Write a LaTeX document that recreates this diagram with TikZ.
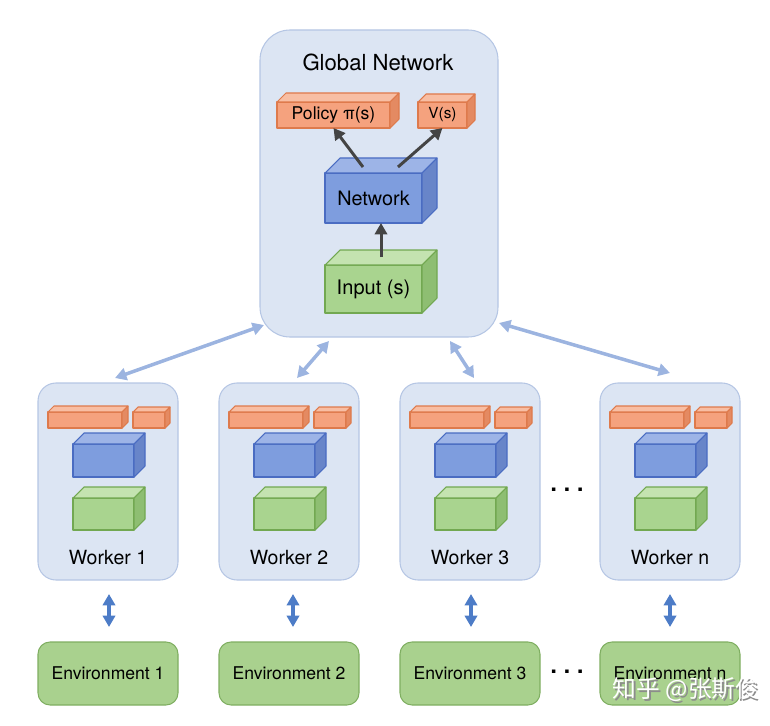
\documentclass[tikz,border=0pt]{standalone}
\usepackage{fontspec}
\setmainfont{TeX Gyre Heros}
\newfontfamily\cjkfont{Noto Sans CJK SC}
\usepackage{tikz}
\usetikzlibrary{arrows.meta, positioning}
\definecolor{panelfill}{HTML}{DCE5F3}
\definecolor{panelline}{HTML}{B5C6E4}
\definecolor{orfront}{HTML}{F5A27E}
\definecolor{ortop}{HTML}{F8BEA3}
\definecolor{orside}{HTML}{E48A62}
\definecolor{orline}{HTML}{DE7A4C}
\definecolor{blfront}{HTML}{7E9DDE}
\definecolor{bltop}{HTML}{9DB4E7}
\definecolor{blside}{HTML}{6885C9}
\definecolor{blline}{HTML}{4A6CC2}
\definecolor{grfront}{HTML}{A9D48F}
\definecolor{grtop}{HTML}{C4E3B0}
\definecolor{grside}{HTML}{8EBE72}
\definecolor{grline}{HTML}{72A851}
\definecolor{envfill}{HTML}{A9D18E}
\definecolor{envline}{HTML}{7FAE61}
\definecolor{linkblue}{HTML}{9CB4E0}
\definecolor{envblue}{HTML}{4D7CC7}
\definecolor{darkarrow}{HTML}{444444}
\def\px{0.02cm}
\newcommand{\block}[8]{%
% #1 = name, #2 = colour, #3/#4 = centre, #5 = width, #6 = height, #7 = depth, #8 = text
\node[face, draw=#2line, fill=#2front, minimum width=#5*\px, minimum height=#6*\px] (#1) at (#3,#4) {#8};
\draw[faceline, draw=#2line, fill=#2top]
(#1.north west) -- ([shift={(#7,-#7)}]#1.north west)
-- ([shift={(#7,-#7)}]#1.north east) -- (#1.north east) -- cycle;
\draw[faceline, draw=#2line, fill=#2side]
(#1.north east) -- ([shift={(#7,-#7)}]#1.north east)
-- ([shift={(#7,-#7)}]#1.south east) -- (#1.south east) -- cycle;
}
\newcommand{\worker}[3]{%
% #1 = name, #2 = left edge, #3 = number
\node[panel, rounded corners=0.36cm, minimum width=140*\px, minimum height=197*\px] (#1) at ({#2+70},481.5) {};
\block{#1pi}{or}{#2+47}{420}{74}{16}{6}{}
\block{#1v}{or}{#2+111}{420}{32}{16}{5}{}
\block{#1net}{bl}{#2+65.5}{460.5}{61}{33}{11}{}
\block{#1in}{gr}{#2+65.5}{514}{61}{32}{11}{}
\node[font=\fontsize{11.1}{13}\selectfont] (#1lbl) at ({#2+70},558) {Worker #3};
}

\begin{document}
\begin{tikzpicture}[
    x=0.02cm, y=-0.02cm,
    panel/.style={draw=panelline, fill=panelfill, line width=0.6pt, inner sep=0pt, outer sep=0pt},
    face/.style={line width=0.6pt, line join=round, inner sep=0pt, outer sep=0pt},
    faceline/.style={line width=0.6pt, line join=round},
    env/.style={draw=envline, fill=envfill, line width=0.6pt, rounded corners=0.24cm,
        minimum width=140*\px, minimum height=63*\px, inner sep=0pt, outer sep=0pt,
        font=\fontsize{10}{12}\selectfont},
    link/.style={draw=linkblue, line width=2pt,
        {Triangle[length=6.5pt,width=7pt]}-{Triangle[length=6.5pt,width=7pt]}},
    envlink/.style={draw=envblue, line width=1.8pt,
        {Triangle[length=6.5pt,width=7pt]}-{Triangle[length=6.5pt,width=7pt]}},
    dark/.style={draw=darkarrow, line width=1.7pt, -{Triangle[length=6.5pt,width=7pt]}}
]
\useasboundingbox (0,0) rectangle (770,726);

% global network
\node[panel, rounded corners=0.6cm, minimum width=238*\px, minimum height=307*\px] (global) at (379,183.5) {};
\node[font=\fontsize{12.6}{15}\selectfont] (gtitle) at (378,62) {Global Network};
\block{policy}{or}{333.5}{115}{113}{26}{9}{\fontsize{10}{12}\selectfont Policy π(s)}
\block{vs}{or}{442.5}{115}{49}{26}{8}{\fontsize{8.7}{10}\selectfont V(s)}
\block{net}{bl}{373.5}{198}{97}{50}{15}{\fontsize{11.3}{13}\selectfont Network}
\block{input}{gr}{373.5}{289}{97}{48}{15}{\fontsize{11.4}{13}\selectfont Input (s)}
\draw[dark] ([shift={(-10.5,-6)}]net.north) -- (policy.south);
\draw[dark] ([shift={(24.5,-6)}]net.north) -- (vs.south);
\draw[dark] ([shift={(7.5,-8)}]input.north) -- ([shift={(7.5,0)}]net.south);

% workers
\worker{w1}{38}{1}
\worker{w2}{219}{2}
\worker{w3}{400}{3}
\worker{wn}{600}{n}
\node[font=\fontsize{19}{20}\selectfont] (dotsw) at (567,490) {.\hspace{0.12em}.\hspace{0.12em}.};

% environments
\node[env] (e1) at (108,673.5) {Environment 1};
\node[env] (e2) at (289,673.5) {Environment 2};
\node[env] (e3) at (470,673.5) {Environment 3};
\node[env] (en) at (670,673.5) {Environment n};
\node[font=\fontsize{19}{20}\selectfont] (dotse) at (567,672) {.\hspace{0.12em}.\hspace{0.12em}.};

% links to the global network
\draw[link] ([shift={(4,-12)}]global.south west) -- ([shift={(7,-5)}]w1.north);
\draw[link] ([shift={(-50,4)}]global.south) -- ([shift={(8,-5)}]w2.north);
\draw[link] ([shift={(71,4)}]global.south) -- ([shift={(4,-5)}]w3.north);
\draw[link] ([shift={(1,-14)}]global.south east) -- ([shift={(0,-10)}]wn.north);

% links to the environments
\draw[envlink] ([shift={(1,14)}]w1.south) -- ([shift={(1,-15)}]e1.north);
\draw[envlink] ([shift={(4,14)}]w2.south) -- ([shift={(4,-15)}]e2.north);
\draw[envlink] ([shift={(1,14)}]w3.south) -- ([shift={(1,-15)}]e3.north);
\draw[envlink] ([shift={(0,14)}]wn.south) -- ([shift={(0,-15)}]en.north);

% watermark
\node[text=black!45, font=\fontsize{13.5}{16}\selectfont\cjkfont] (markshadow) at (687.5,691.5) {知乎 @张斯俊};
\node[text=white, font=\fontsize{13.5}{16}\selectfont\cjkfont] (mark) at (686,690) {知乎 @张斯俊};
\end{tikzpicture}
\end{document}
